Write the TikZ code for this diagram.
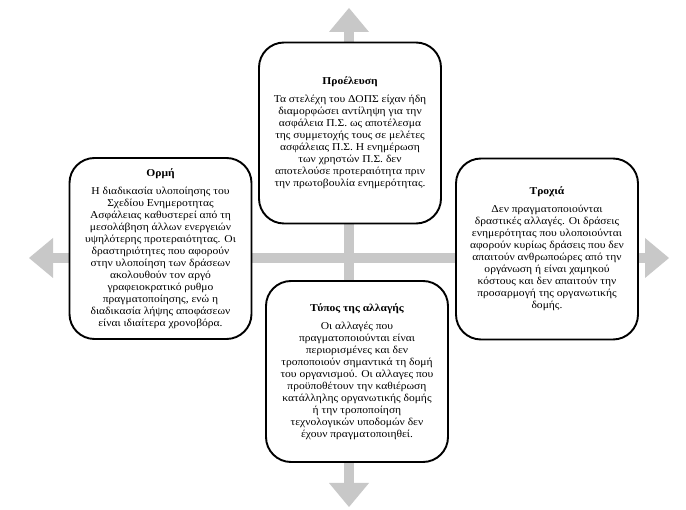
\documentclass[tikz,border=0pt]{standalone}
\usepackage{fontspec}
\setmainfont{Liberation Serif}[FakeStretch=1.1]
\usepackage{xcolor}
\usepackage{tikz}
\usetikzlibrary{arrows.meta}
\definecolor{crossgray}{RGB}{200,200,200}

\begin{document}
\begin{tikzpicture}[x=1pt,y=-1pt,
  phase/.style={draw, line width=1.9pt, fill=white, rounded corners=25pt, minimum width=182pt, minimum height=181pt, align=center, inner sep=0pt, font=\fontsize{10.5}{12}\selectfont},
  crossbar/.style={draw=crossgray, line width=10pt, {Triangle[length=24pt,width=40pt,line width=0pt]}-{Triangle[length=24pt,width=40pt,line width=0pt]}}]
\useasboundingbox (0,0) rectangle (686,510);

% the gray cross behind the boxes
\coordinate (w) at (29,258);
\coordinate (e) at (669,258);
\coordinate (n) at (349,8);
\coordinate (s) at (349,507);
\draw[crossbar] (w) -- (e);
\draw[crossbar] (n) -- (s);

\node[phase] (origin) at (350,133) {{\bfseries Προέλευση}\\[6pt]
Τα στελέχη του ΔΟΠΣ είχαν ήδη\\
διαμορφώσει αντίληψη για την\\
ασφάλεια Π.Σ. ως αποτέλεσμα\\
της συμμετοχής τους σε μελέτες\\
ασφάλειας Π.Σ. Η ενημέρωση\\
των χρηστών Π.Σ. δεν\\
αποτελούσε προτεραιότητα πριν\\
την πρωτοβουλία ενημερότητας.};

\node[phase] (impulse) at (160.5,248.5) {{\bfseries Ορμή}\\[6pt]
Η διαδικασία υλοποίησης του\\
Σχεδίου Ενημεροτητας\\
Ασφάλειας καθυστερεί από τη\\
μεσολάβηση άλλων ενεργειών\\
υψηλότερης προτεραιότητας. Οι\\
δραστηριότητες που αφορούν\\
στην υλοποίηση των δράσεων\\
ακολουθούν τον αργό\\
γραφειοκρατικό ρυθμο\\
πραγματοποίησης, ενώ η\\
διαδικασία λήψης αποφάσεων\\
είναι ιδιαίτερα χρονοβόρα.};

\node[phase] (course) at (547,249) {{\bfseries Τροχιά}\\[6pt]
Δεν πραγματοποιούνται\\
δραστικές αλλαγές. Οι δράσεις\\
ενημερότητας που υλοποιούνται\\
αφορούν κυρίως δράσεις που δεν\\
απαιτούν ανθρωποώρες από την\\
οργάνωση ή είναι χαμηκού\\
κόστους και δεν απαιτούν την\\
προσαρμογή της οργανωτικής\\
δομής.};

\node[phase] (kind) at (357,371.5) {{\bfseries Τύπος της αλλαγής}\\[6pt]
Οι αλλαγές που\\
πραγματοποιούνται είναι\\
περιορισμένες και δεν\\
τροποποιούν σημαντικά τη δομή\\
του οργανισμού. Οι αλλαγες που\\
προϋποθέτουν την καθιέρωση\\
κατάλληλης οργανωτικής δομής\\
ή την τροποποίηση\\
τεχνολογικών υποδομών δεν\\
έχουν πραγματοποιηθεί.};
\end{tikzpicture}
\end{document}
